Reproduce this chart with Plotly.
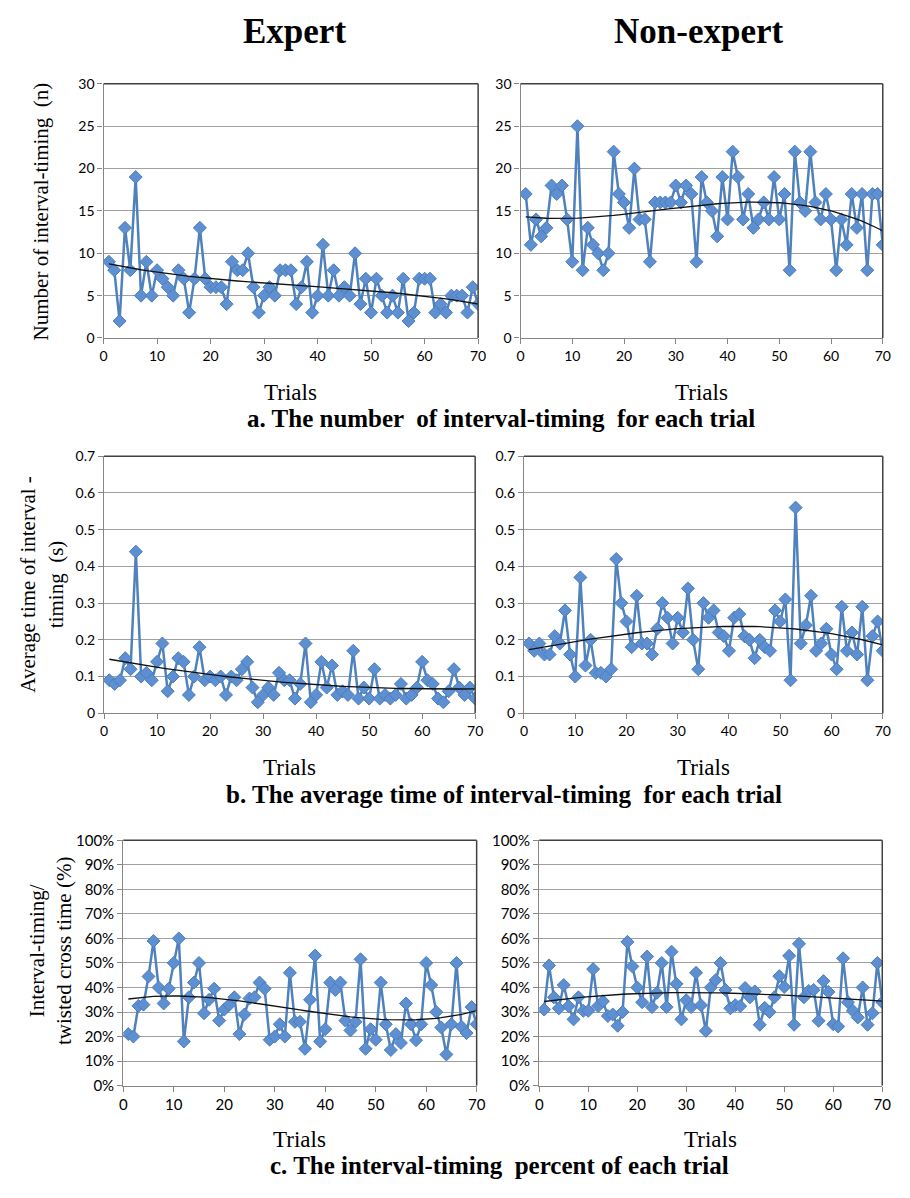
import numpy as np
import plotly.graph_objects as go

W, H = 910, 1198

trials = list(range(1, 71))

expert_count = [9, 8, 2, 13, 8, 19, 5, 9, 5, 8,
                7, 6, 5, 8, 7, 3, 7, 13, 7, 6,
                6, 6, 4, 9, 8, 8, 10, 6, 3, 5,
                6, 5, 8, 8, 8, 4, 6, 9, 3, 5,
                11, 5, 8, 5, 6, 5, 10, 4, 7, 3,
                7, 5, 3, 5, 3, 7, 2, 3, 7, 7,
                7, 3, 4, 3, 5, 5, 5, 3, 6, 4]
nonexpert_count = [17, 11, 14, 12, 13, 18, 17, 18, 14, 9,
                   25, 8, 13, 11, 10, 8, 10, 22, 17, 16,
                   13, 20, 14, 14, 9, 16, 16, 16, 16, 18,
                   16, 18, 17, 9, 19, 16, 15, 12, 19, 14,
                   22, 19, 14, 17, 13, 14, 16, 14, 19, 14,
                   17, 8, 22, 16, 15, 22, 16, 14, 17, 14,
                   8, 14, 11, 17, 13, 17, 8, 17, 17, 11]
expert_time = [0.09, 0.08, 0.09, 0.15, 0.12, 0.44, 0.10, 0.11, 0.09, 0.14,
               0.19, 0.06, 0.10, 0.15, 0.14, 0.05, 0.10, 0.18, 0.09, 0.10,
               0.09, 0.10, 0.05, 0.10, 0.09, 0.12, 0.14, 0.07, 0.03, 0.05,
               0.07, 0.05, 0.11, 0.09, 0.09, 0.04, 0.08, 0.19, 0.03, 0.05,
               0.14, 0.07, 0.13, 0.05, 0.06, 0.05, 0.17, 0.04, 0.07, 0.04,
               0.12, 0.04, 0.05, 0.04, 0.05, 0.08, 0.04, 0.05, 0.07, 0.14,
               0.09, 0.08, 0.04, 0.03, 0.06, 0.12, 0.07, 0.05, 0.07, 0.04]
nonexpert_time = [0.19, 0.17, 0.19, 0.16, 0.16, 0.21, 0.19, 0.28, 0.16, 0.10,
                  0.37, 0.13, 0.20, 0.11, 0.11, 0.10, 0.12, 0.42, 0.30, 0.25,
                  0.18, 0.32, 0.19, 0.19, 0.16, 0.23, 0.30, 0.26, 0.19, 0.26,
                  0.22, 0.34, 0.20, 0.12, 0.30, 0.26, 0.28, 0.22, 0.21, 0.17,
                  0.26, 0.27, 0.21, 0.20, 0.15, 0.20, 0.18, 0.17, 0.28, 0.25,
                  0.31, 0.09, 0.56, 0.19, 0.24, 0.32, 0.17, 0.19, 0.23, 0.16,
                  0.12, 0.29, 0.17, 0.22, 0.16, 0.29, 0.09, 0.21, 0.25, 0.17]
expert_pct = [21, 20, 32.5, 33, 44.5, 59, 40, 33.5, 39.5, 50,
              60, 18, 36, 42, 50, 29.5, 35, 39.5, 26.5, 31,
              33, 36, 21, 29, 35.5, 36, 42, 39.5, 18.7, 20,
              25, 20, 46, 26, 26, 15, 35, 53, 18, 23,
              42, 39, 42, 26.5, 22.5, 26, 51.5, 15, 23, 18.7,
              42, 25, 14.5, 21, 17.4, 33.5, 25, 18.5, 25, 50,
              41, 30, 23.7, 12.7, 25, 50, 24, 21.4, 32, 25]
nonexpert_pct = [31, 49, 36, 31.5, 41, 32.4, 27, 36, 30.5, 30.5,
                 47.5, 32.4, 34.4, 28.4, 29, 24.4, 30, 58.6, 48.6, 40,
                 34, 52.6, 32, 37.8, 50, 32, 54.6, 41.5, 27, 34.8,
                 32, 46, 32.8, 22.3, 40, 43, 50, 39, 31.5, 32.8,
                 32.4, 39.8, 36, 38.4, 24.8, 31.7, 30, 36, 44.6, 40.2,
                 52.9, 24.8, 57.8, 36, 38.6, 39, 26.4, 42.6, 38.2, 25,
                 24.1, 51.9, 34, 30.5, 27.8, 40, 24.8, 29.5, 50, 34]

column_titles = ["Expert", "Non-expert"]
panel_titles = ["a. The number  of interval-timing  for each trial",
                "b. The average time of interval-timing  for each trial",
                "c. The interval-timing  percent of each trial"]
y_titles = ["Number of interval-timing  (n)",
            "Average time of interval -<br>timing  (s)",
            "Interval-timing/<br>twisted cross time (%)"]
x_title = "Trials"

series = [expert_count, nonexpert_count, expert_time, nonexpert_time, expert_pct, nonexpert_pct]
y_ranges = [(0, 30, 5), (0, 30, 5), (0, 0.7, 0.1), (0, 0.7, 0.1), (0, 100, 10), (0, 100, 10)]

# pixel boxes: (left, right, top, bottom)
boxes = [(101, 481, 75, 333), (524, 891.5, 75, 333),
         (101.5, 478, 453, 714), (527.5, 891.5, 453, 714),
         (121, 479.5, 843, 1092), (543, 891, 843, 1092)]

def px(x):
    return x / W

def py(y):
    return 1 - y / H

fig = go.Figure()
serif = "Liberation Serif, Times New Roman, serif"
layout = dict(width=W, height=H, margin=dict(l=0, r=0, t=0, b=0),
              paper_bgcolor="white", plot_bgcolor="white", showlegend=False)
shapes = []
annotations = []
x_arr = np.array(trials, dtype=float)

for i, (vals, (y0, y1, dt), (l, r, t, b)) in enumerate(zip(series, y_ranges, boxes)):
    k = i + 1
    xa = "x" if k == 1 else f"x{k}"
    ya = "y" if k == 1 else f"y{k}"
    fsz = 15 if i >= 4 else 14
    tick_font = dict(family="Lato, Liberation Sans, sans-serif", size=fsz, color="#000")
    fig.add_trace(go.Scatter(x=trials, y=vals, xaxis=xa, yaxis=ya, mode="lines+markers",
                             line=dict(color="#4F81BD", width=2.5),
                             marker=dict(symbol="diamond", size=10, color="#5E8FD1",
                                         line=dict(color="#4A7EBB", width=1))))
    coef = np.polyfit(x_arr, np.array(vals, dtype=float), 3)
    fig.add_trace(go.Scatter(x=trials, y=np.polyval(coef, x_arr), xaxis=xa, yaxis=ya,
                             mode="lines", line=dict(color="#111", width=1.3)))
    xkey = "xaxis" if k == 1 else f"xaxis{k}"
    ykey = "yaxis" if k == 1 else f"yaxis{k}"
    layout[xkey] = dict(domain=[px(l), px(r)], anchor=ya, range=[0, 70], tick0=0, dtick=10,
                        showgrid=False, zeroline=False, showline=True, linecolor="#868686",
                        linewidth=1.3, ticks="outside", ticklen=5, tickcolor="#868686",
                        tickfont=tick_font)
    yd = dict(domain=[py(b), py(t)], anchor=xa, range=[y0, y1], tick0=0, dtick=dt,
              showgrid=True, gridcolor="#A0A0A0", gridwidth=1.2, zeroline=False,
              showline=True, linecolor="#868686", linewidth=1.3, ticks="outside",
              ticklen=5, tickcolor="#868686", tickfont=tick_font)
    if i >= 4:
        yd["ticksuffix"] = "%"
    layout[ykey] = yd
    # dark top and right frame lines
    shapes.append(dict(type="line", xref="paper", yref="paper", x0=px(l), x1=px(r),
                       y0=py(t), y1=py(t), line=dict(color="#404040", width=1.5)))
    shapes.append(dict(type="line", xref="paper", yref="paper", x0=px(r), x1=px(r),
                       y0=py(t), y1=py(b), line=dict(color="#404040", width=1.5)))
    # Trials label
    annotations.append(dict(text=x_title, xref="paper", yref="paper", x=px((l + r) / 2),
                            y=py(b + 55), showarrow=False, xanchor="center", yanchor="middle",
                            font=dict(family=serif, size=23, color="#000")))

# column headers
annotations.append(dict(text="<b>" + column_titles[0] + "</b>", xref="paper", yref="paper",
                        x=px(295), y=py(22), showarrow=False, xanchor="center", yanchor="middle",
                        font=dict(family=serif, size=35, color="#000")))
annotations.append(dict(text="<b>" + column_titles[1] + "</b>", xref="paper", yref="paper",
                        x=px(705), y=py(22), showarrow=False, xanchor="center", yanchor="middle",
                        font=dict(family=serif, size=35, color="#000")))

# panel titles
for j, (ttl, ypos, xc) in enumerate(zip(panel_titles, [415, 796, 1173], [504, 507, 503])):
    annotations.append(dict(text="<b>" + ttl + "</b>", xref="paper", yref="paper",
                            x=px(xc), y=py(ypos), showarrow=False, xanchor="center",
                            yanchor="middle", font=dict(family=serif, size=25, color="#000")))

# y titles
for ttl, xc, yc in zip(y_titles, [37, 38, 47], [204, 583, 955]):
    annotations.append(dict(text=ttl, xref="paper", yref="paper", x=px(xc), y=py(yc),
                            showarrow=False, textangle=-90, xanchor="center", yanchor="middle",
                            font=dict(family=serif, size=21, color="#000")))

layout["shapes"] = shapes
layout["annotations"] = annotations
fig.update_layout(**layout)
fig.write_html("out.html")
